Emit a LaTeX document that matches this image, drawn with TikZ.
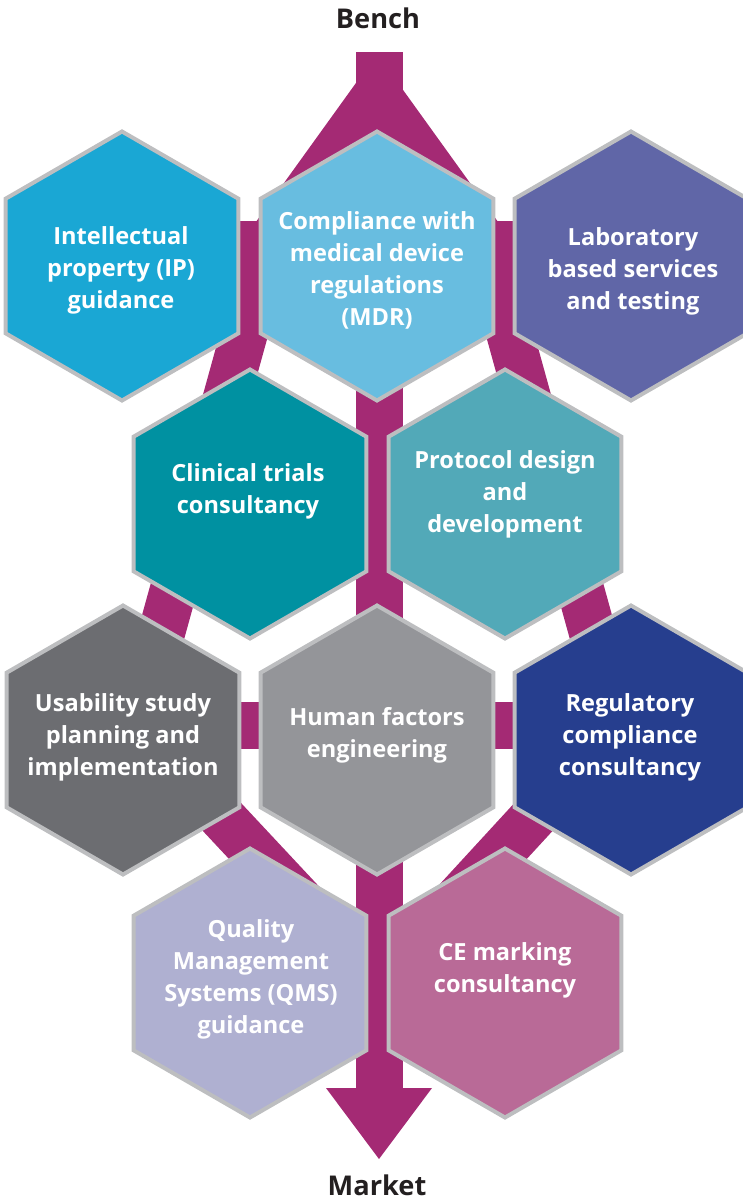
\documentclass[tikz,border=0pt]{standalone}
\usepackage{fontspec}
\setmainfont{Open Sans}
\usetikzlibrary{shapes.geometric, positioning, backgrounds}
\definecolor{ribbon}{HTML}{A42A74}
\definecolor{hexborder}{HTML}{BDBEC0}
\definecolor{titlegray}{HTML}{231F20}
\definecolor{ipblue}{HTML}{1AA7D4}
\definecolor{mdrblue}{HTML}{68BDE0}
\definecolor{labblue}{HTML}{6066A7}
\definecolor{clinteal}{HTML}{0091A1}
\definecolor{protteal}{HTML}{52A9B8}
\definecolor{usegray}{HTML}{6C6D71}
\definecolor{hfgray}{HTML}{949599}
\definecolor{regnavy}{HTML}{263E8E}
\definecolor{qmslilac}{HTML}{AFB0D1}
\definecolor{cepink}{HTML}{B96A97}
\tikzset{
    hexagon/.style={regular polygon, regular polygon sides=6, regular polygon rotate=30,
        minimum size=134.5pt, inner sep=0pt, draw=hexborder, line width=2pt}, % pointy top cells
    hextext/.style={text=white, align=center, font=\fontsize{11.8}{16}\selectfont\bfseries},
    ribbon line/.style={draw=ribbon, line width=23.5pt},
    title/.style={text=titlegray, inner sep=1pt, font=\fontsize{13.6}{16}\selectfont\bfseries},
}

\begin{document}
\begin{tikzpicture}[x=0.5pt, y=-0.5pt]
        \useasboundingbox (0,0) rectangle (743,1200);

        % Nodes
        \node[hexagon, fill=ipblue] (ip) at (122,266) {};
        \node[hexagon, fill=mdrblue] (mdr) at (377,266) {};
        \node[hexagon, fill=labblue] (lab) at (631,266) {};
        \node[hexagon, fill=clinteal] (clinical) at (250,504) {};
        \node[hexagon, fill=protteal] (protocol) at (505,504) {};
        \node[hexagon, fill=usegray] (usability) at (123,740) {};
        \node[hexagon, fill=hfgray] (human) at (377,740) {};
        \node[hexagon, fill=regnavy] (regulatory) at (631,740) {};
        \node[hexagon, fill=qmslilac] (qms) at (250,983) {};
        \node[hexagon, fill=cepink] (ce) at (505,983) {};

        % texts
        \node[hextext] (ip-text) at (121,270) {Intellectual\\property (IP)\\guidance};
        \node[hextext] (mdr-text) at (377,270) {Compliance with\\medical device\\regulations\\(MDR)};
        \node[hextext] (lab-text) at (633,271) {Laboratory\\based services\\and testing};
        \node[hextext] (clinical-text) at (248,491) {Clinical trials\\consultancy};
        \node[hextext] (protocol-text) at (505,494) {Protocol design\\and\\development};
        \node[hextext] (usability-text) at (123,737) {Usability study\\planning and\\implementation};
        \node[hextext] (human-text) at (377,735) {Human factors\\engineering};
        \node[hextext] (regulatory-text) at (630,737) {Regulatory\\compliance\\consultancy};
        \node[hextext] (qms-text) at (251,979) {Quality\\Management\\Systems (QMS)\\guidance};
        \node[hextext] (ce-text) at (505,970) {CE marking\\consultancy};

        \node[title] (bench) at (378,18) {Bench};
        \node[title] (market) at (377,1185) {Market};

        % ribbons behind the cells
        \begin{scope}[on background layer]
            \coordinate (top) at (379,52);
            \coordinate (fork) at (377,94);
            \coordinate (split-l) at (269,244);
            \coordinate (split-r) at (485,244);
            \coordinate (join-l) at (136,725);
            \coordinate (join-r) at (618,725);
            \coordinate (merge) at (379,985);
            \coordinate (tip) at (379,1088);

            \draw[ribbon line] (top) -- (tip);
            \fill[ribbon] ([xshift=-26.5pt]tip) -- ([xshift=26.5pt]tip) -- ([yshift=-35.5pt]tip) -- cycle;
            \draw[ribbon line, line join=miter] (split-l) -- (fork) -- (split-r);
            \draw[ribbon line] (split-l -| ip) -- (split-r -| lab);
            \draw[ribbon line, line join=round] (split-l) -- (join-l) -- (merge) -- (join-r) -- (split-r);
            \draw[ribbon line] (join-l -| usability) -- (join-r -| regulatory);
        \end{scope}
    \end{tikzpicture}
\end{document}
